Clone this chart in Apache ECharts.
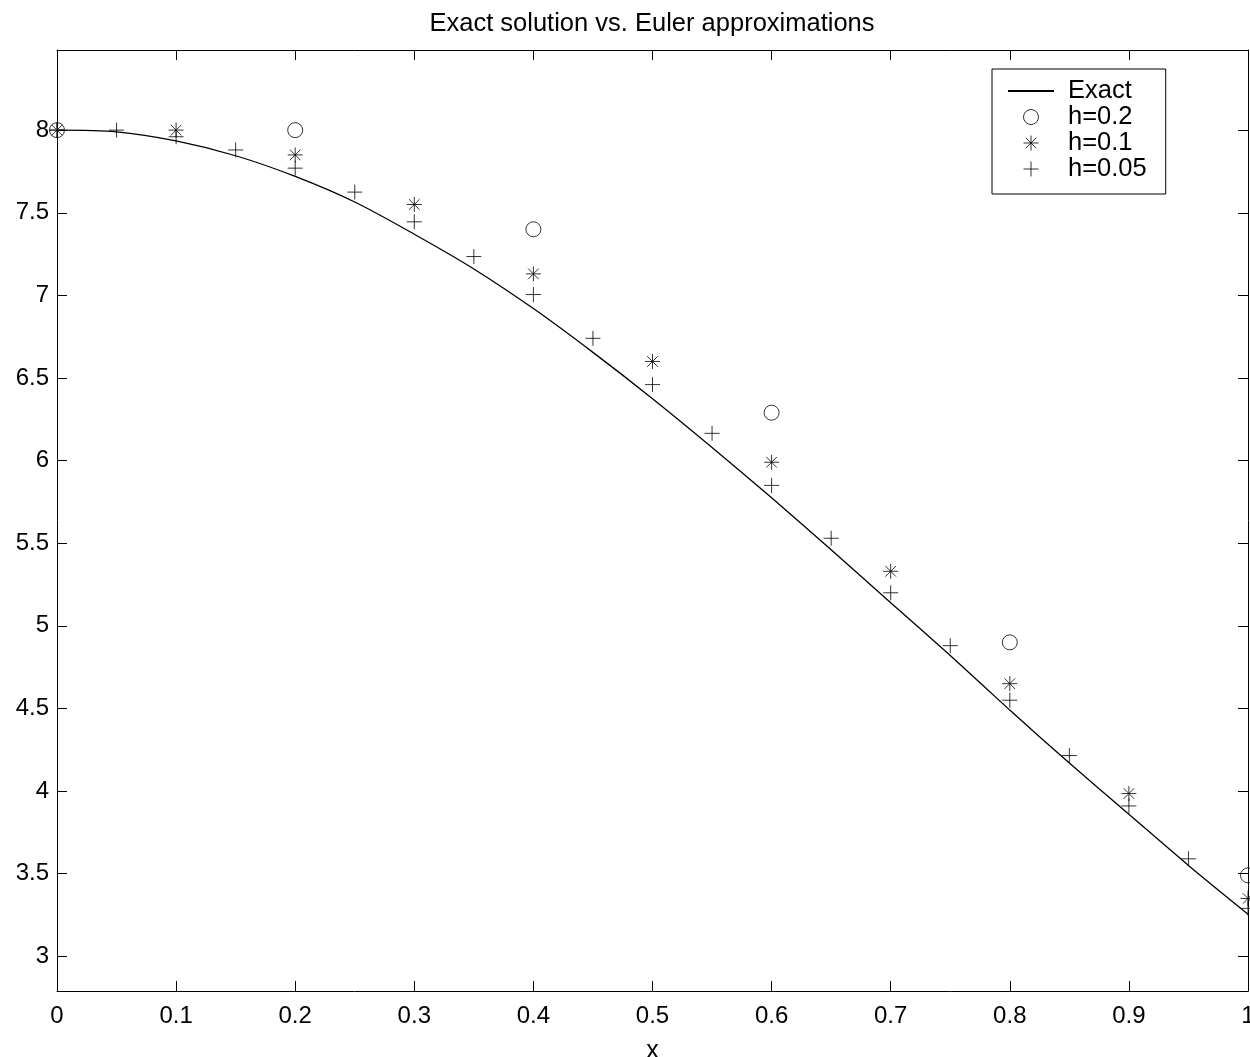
<!DOCTYPE html>
<html>
<head>
<meta charset="utf-8">
<script src="https://cdn.jsdelivr.net/npm/echarts@6/dist/echarts.min.js"></script>
<style>
html,body{margin:0;padding:0;background:#fff;}
#chart{width:1250px;height:1057px;}
</style>
</head>
<body>
<div id="chart"></div>
<script>
// ---- data ----
const xExact = [0, 0.05, 0.1, 0.15, 0.2, 0.25, 0.3, 0.35, 0.4, 0.45, 0.5, 0.55, 0.6, 0.65, 0.7, 0.75, 0.8, 0.85, 0.9, 0.95, 1.0];
const yExact = [8.00, 7.99, 7.935, 7.845, 7.72, 7.565, 7.37, 7.16, 6.92, 6.655, 6.375, 6.08, 5.775, 5.46, 5.14, 4.82, 4.49, 4.17, 3.86, 3.55, 3.255];

const xH02 = [0, 0.2, 0.4, 0.6, 0.8, 1.0];
const yH02 = [8.00, 8.00, 7.40, 6.29, 4.90, 3.49];

const xH01 = [0, 0.1, 0.2, 0.3, 0.4, 0.5, 0.6, 0.7, 0.8, 0.9, 1.0];
const yH01 = [8.00, 8.00, 7.85, 7.55, 7.13, 6.60, 5.99, 5.33, 4.65, 3.985, 3.35];

const xH005 = [0, 0.05, 0.1, 0.15, 0.2, 0.25, 0.3, 0.35, 0.4, 0.45, 0.5, 0.55, 0.6, 0.65, 0.7, 0.75, 0.8, 0.85, 0.9, 0.95, 1.0];
const yH005 = [8.00, 8.00, 7.96, 7.88, 7.77, 7.625, 7.445, 7.235, 7.005, 6.74, 6.46, 6.165, 5.85, 5.53, 5.20, 4.88, 4.55, 4.215, 3.91, 3.59, 3.29];

const xTicks = [0, 0.1, 0.2, 0.3, 0.4, 0.5, 0.6, 0.7, 0.8, 0.9, 1];
const yTicks = [3, 3.5, 4, 4.5, 5, 5.5, 6, 6.5, 7, 7.5, 8];

const seriesNames = ['Exact', 'h=0.2', 'h=0.1', 'h=0.05'];
const titleText = 'Exact solution vs. Euler approximations';
const xName = 'x';

// ---- build ----
const zip = (xs, ys) => xs.map((x, i) => [x, ys[i]]);
const STAR = 'path://M0,-10L0,10M-10,0L10,0M-7.07,-7.07L7.07,7.07M-7.07,7.07L7.07,-7.07';
const PLUS = 'path://M0,-10L0,10M-10,0L10,0';
const FONT = 'Liberation Sans';
const markerStyle = {color: 'transparent', borderColor: '#000', borderWidth: 1};

function axisCommon(ticks, showLabel, margin) {
  return {
    axisLine: {show: true, onZero: false, lineStyle: {color: '#000', width: 1}},
    axisTick: {show: true, inside: true, length: 10, customValues: ticks, lineStyle: {color: '#000', width: 1}},
    axisLabel: {show: showLabel, customValues: ticks, margin: margin, color: '#000', fontFamily: FONT, fontSize: 24},
    splitLine: {show: false}
  };
}

const chart = echarts.init(document.getElementById('chart'), null, {renderer: 'canvas'});
const option = {
  animation: false,
  backgroundColor: '#fff',
  title: {
    text: titleText,
    left: 647, top: 6, textAlign: 'center',
    textStyle: {fontFamily: FONT, fontSize: 25.5, fontWeight: 'normal', color: '#000'}
  },
  grid: {left: 57, right: 2, top: 50, bottom: 66, containLabel: false, outerBoundsMode: 'none'},
  xAxis: [
    Object.assign(axisCommon(xTicks, true, 13), {
      type: 'value', min: 0, max: 1, position: 'bottom',
      name: xName, nameLocation: 'middle', nameGap: 48,
      nameTextStyle: {fontFamily: FONT, fontSize: 25, color: '#000'}
    }),
    Object.assign(axisCommon(xTicks, false, 8), {type: 'value', min: 0, max: 1, position: 'top'})
  ],
  yAxis: [
    Object.assign(axisCommon(yTicks, true, 8), {type: 'value', min: 2.79, max: 8.485, position: 'left'}),
    Object.assign(axisCommon(yTicks, false, 8), {type: 'value', min: 2.79, max: 8.485, position: 'right'})
  ],
  legend: {
    orient: 'vertical',
    left: 992, top: 69,
    padding: [9, 19, 12, 15],
    itemWidth: 46, itemHeight: 15, itemGap: 0,
    symbolKeepAspect: true,
    selectedMode: false,
    borderColor: '#000', borderWidth: 1, backgroundColor: '#fff',
    textStyle: {fontFamily: FONT, fontSize: 25.5, color: '#000', lineHeight: 25.3, padding: [0, 0, 0, 9]},
    data: [
      {name: seriesNames[0], itemStyle: {color: 'transparent', borderColor: 'transparent', borderWidth: 0}},
      {name: seriesNames[1], icon: 'circle', itemStyle: markerStyle},
      {name: seriesNames[2], icon: STAR, itemStyle: markerStyle},
      {name: seriesNames[3], icon: PLUS, itemStyle: markerStyle}
    ],
    z: 10
  },
  series: [
    {
      name: seriesNames[0], type: 'line', data: zip(xExact, yExact),
      symbol: 'none', smooth: 0.3, lineStyle: {color: '#000', width: 1.3}, itemStyle: {color: '#000'},
      silent: true
    },
    {
      name: seriesNames[1], type: 'scatter', data: zip(xH02, yH02), clip: false,
      symbol: 'circle', symbolSize: 15, itemStyle: markerStyle, silent: true
    },
    {
      name: seriesNames[2], type: 'scatter', data: zip(xH01, yH01), clip: false,
      symbol: STAR, symbolSize: 15, itemStyle: markerStyle, silent: true
    },
    {
      name: seriesNames[3], type: 'scatter', data: zip(xH005, yH005), clip: false,
      symbol: PLUS, symbolSize: 15, itemStyle: markerStyle, silent: true
    }
  ]
};
chart.setOption(option);
</script>
</body>
</html>
